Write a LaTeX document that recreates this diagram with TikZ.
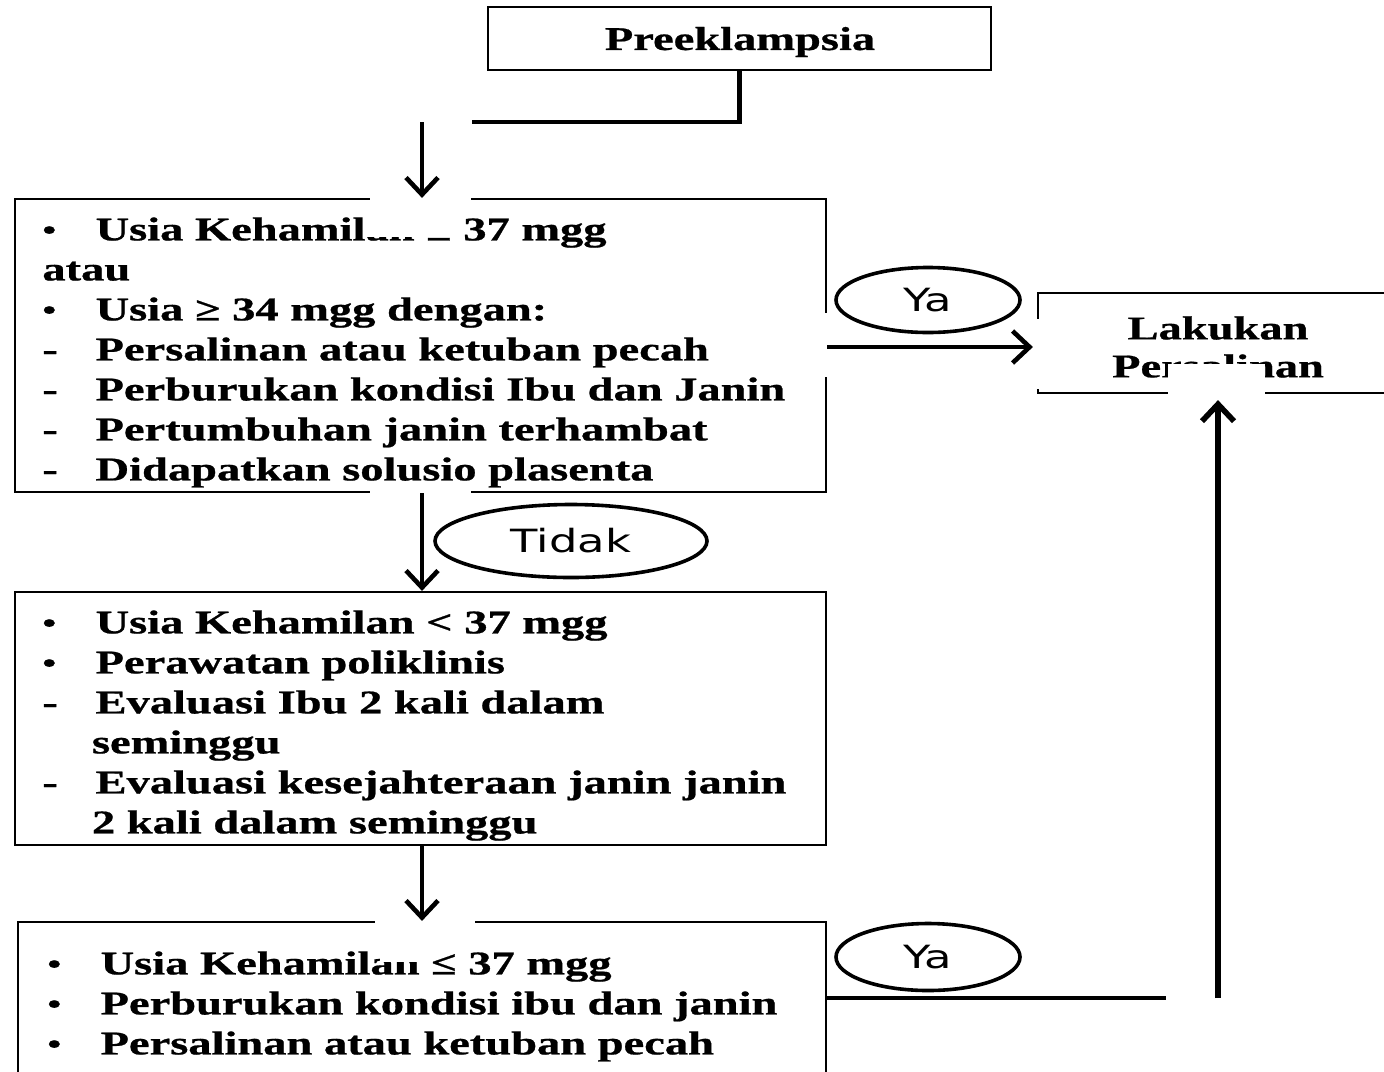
\documentclass[tikz,border=0pt]{standalone}
\usepackage{fontspec}
\setmainfont{Liberation Serif}[BoldFeatures={FakeBold=0.6}]
\newfontfamily\labfont{DejaVu Sans}
\usepackage{graphicx}
\usetikzlibrary{arrows.meta,shapes.geometric}
\newcommand{\sx}[1]{\scalebox{1.4}[1]{#1}}
\newcommand{\itm}[2]{\makebox[19pt][l]{#1}#2}
\newcommand{\bul}{\raisebox{0.5pt}{\scalebox{0.85}{•}}}
\begin{document}
\begin{tikzpicture}[x=0.5pt,y=-0.5pt,
  box/.style={draw, line width=1.1pt, inner sep=0pt},
  body/.style={inner sep=0pt, anchor=north west, font=\bfseries\fontsize{16.6}{20}\selectfont},
  head/.style={inner sep=0pt, align=center, font=\bfseries\fontsize{16.6}{19}\selectfont},
  lab/.style={ellipse, draw, line width=1.8pt, inner sep=0pt, font=\labfont\fontsize{16}{19}\selectfont},
  conn/.style={line width=2.2pt},
  arr/.style={line width=2.3pt, -{Straight Barb[length=8.5pt,width=16pt]}},
  patch/.style={fill=white, draw=none}]
\useasboundingbox (0,0) rectangle (1384,1071);
\fill[white] (0,0) rectangle (1384,1071);

% boxes
\node[box, minimum width=251.5pt, minimum height=31.5pt] (pre) at (739.5,38.5) {};
\node[box, minimum width=405.5pt, minimum height=146.5pt] (b1) at (420.5,345.5) {};
\node[box, minimum width=405.5pt, minimum height=126.5pt] (b3) at (420.5,718.5) {};
\node[box, minimum width=404pt, minimum height=89pt] (b4) at (422,1011) {};
\node[box, minimum width=186pt, minimum height=50pt] (lak) at (1224,343) {};

% texts
\node[head] (pret) at (740,42) {\sx{Preeklampsia}};
\node[head] (lakt) at (1218,347) {\sx{Lakukan}\\\sx{Persalinan}};

\node[body] (t1) at (42,212) {\sx{\begin{tabular}{@{}l@{}}
\itm{\bul}{Usia Kehamilan ≥ 37 mgg}\\
atau\\
\itm{\bul}{Usia ≥ 34 mgg dengan:}\\
\itm{-}{Persalinan atau ketuban pecah}\\
\itm{-}{Perburukan kondisi Ibu dan Janin}\\
\itm{-}{Pertumbuhan janin terhambat}\\
\itm{-}{Didapatkan solusio plasenta}
\end{tabular}}};

\node[body] (t3) at (42,605) {\sx{\begin{tabular}{@{}l@{}}
\itm{\bul}{Usia Kehamilan < 37 mgg}\\
\itm{\bul}{Perawatan poliklinis}\\
\itm{-}{Evaluasi Ibu 2 kali dalam}\\
\hspace{17.7pt}seminggu\\
\itm{-}{Evaluasi kesejahteraan janin janin}\\
\hspace{17.7pt}2 kali dalam seminggu
\end{tabular}}};

\node[body] (t4) at (47,946) {\sx{\begin{tabular}{@{}l@{}}
\itm{\bul}{Usia Kehamilan ≤ 37 mgg}\\
\itm{\bul}{Perburukan kondisi ibu dan janin}\\
\itm{\bul}{Persalinan atau ketuban pecah}
\end{tabular}}};

% white gaps
\fill[patch] (370,190) rectangle (471,208);
\fill[patch] (363,208) rectangle (458,237);
\fill[patch] (370,487) rectangle (471,498);
\fill[patch] (820,313) rectangle (832,377);
\fill[patch] (1032,319) rectangle (1044,389);
\fill[patch] (1168,364) rectangle (1265,400);
\fill[patch] (375,915) rectangle (475,930);
\fill[patch] (380,930) rectangle (428,962);

% labels
\node[lab, minimum width=92pt, minimum height=32.5pt] (ya1) at (928,300) {\sx{Ya}};
\node[lab, minimum width=136pt, minimum height=36.5pt] (tidak) at (571,541) {\sx{Tidak}};
\node[lab, minimum width=92pt, minimum height=33.5pt] (ya2) at (928,957) {\sx{Ya}};

% connectors
\coordinate (j1) at (472,122);
\coordinate (a1) at (422,122);
\coordinate (y1) at (826,347);
\coordinate (j2) at (1166,998);
\coordinate (u1) at (1218,998);

\draw[conn] (pre.south) |- (j1);
\draw[arr] (a1) -- (a1 |- b1.north);
\draw[arr] (a1 |- b1.south) -- (a1 |- b3.north);
\draw[arr] (a1 |- b3.south) -- (a1 |- b4.north);
\draw[arr] (b1.east |- y1) -- ([xshift=-2pt]lak.west |- y1);
\draw[line width=1.8pt] (b4.east |- j2) -- (j2);
\draw[arr, line width=2.8pt] (u1) -- ([yshift=-3pt]u1 |- lak.south);
\end{tikzpicture}
\end{document}
